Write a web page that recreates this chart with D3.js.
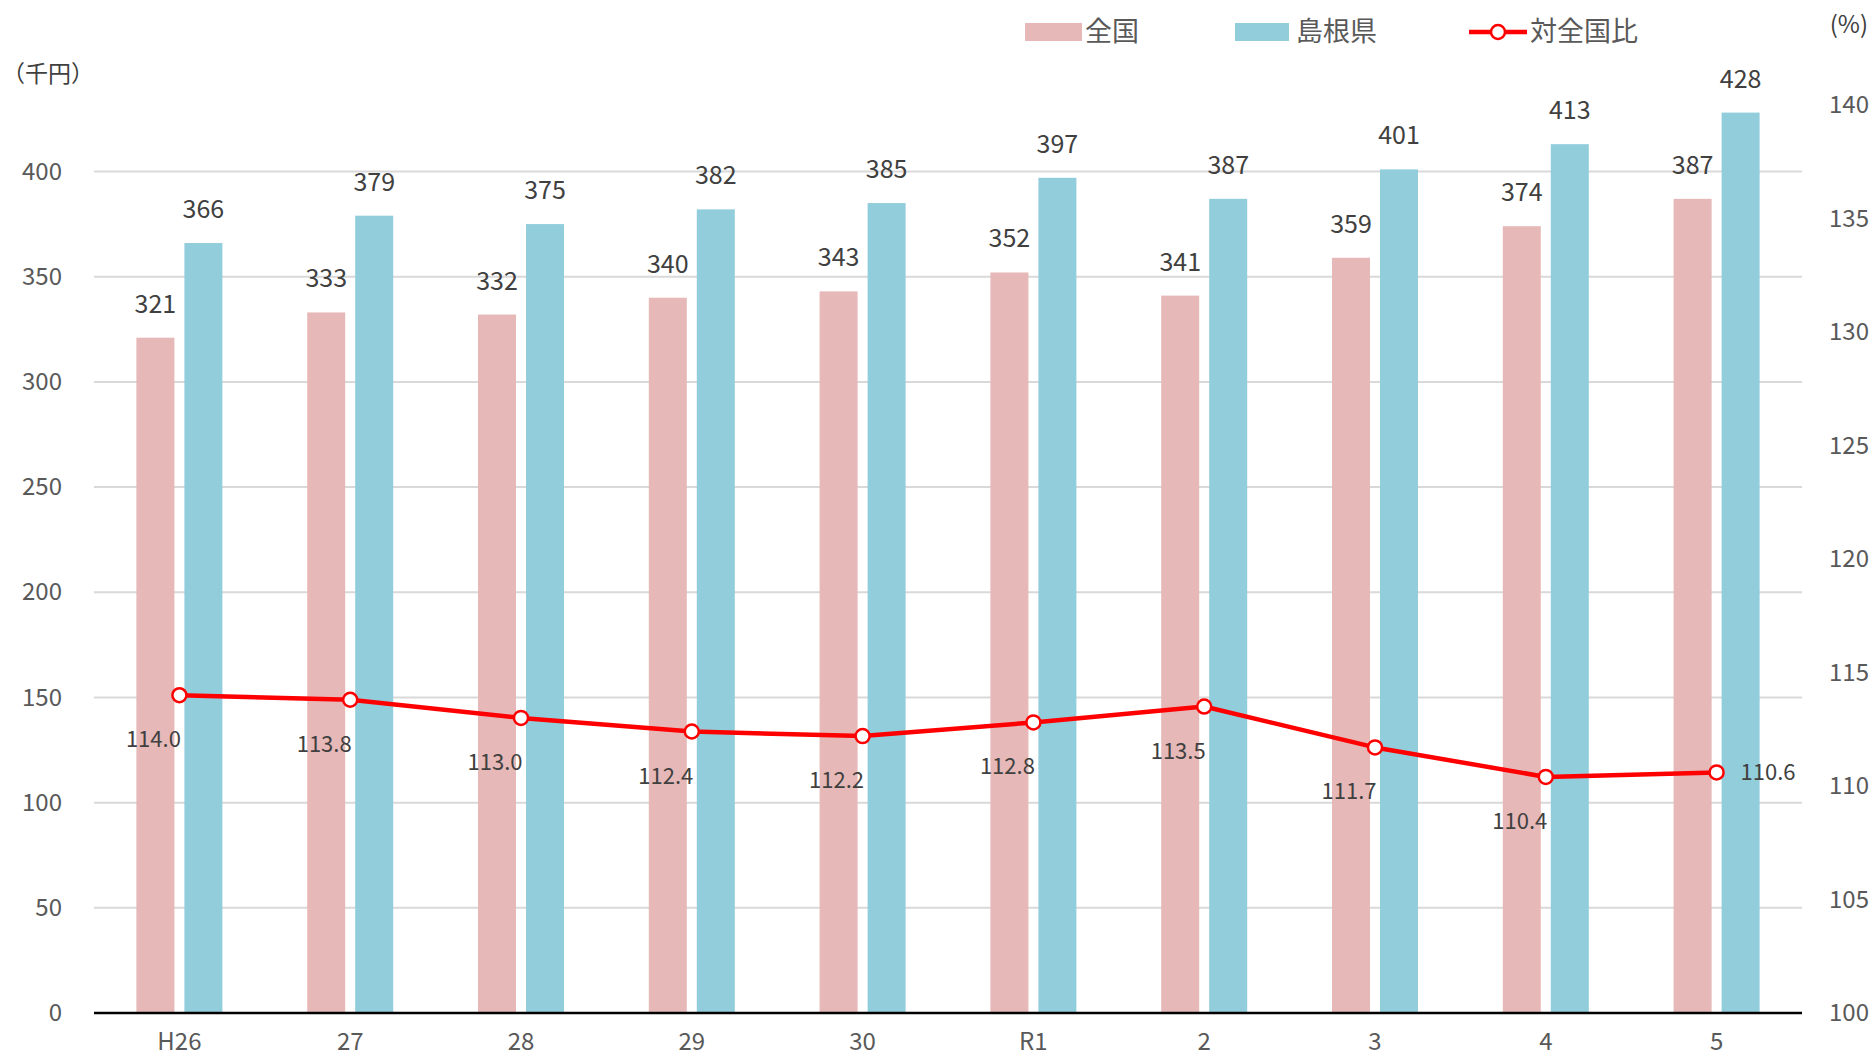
<!DOCTYPE html>
<html><head><meta charset="utf-8">
<script src="https://cdn.jsdelivr.net/npm/d3@7"></script>
<style>
html,body{margin:0;padding:0;background:#fff;}
svg{display:block;font-family:"Noto Sans CJK JP","Noto Sans",sans-serif;}
</style></head>
<body>
<svg id="chart" width="1874" height="1058"></svg>
<script>
const categories = ["H26","27","28","29","30","R1","2","3","4","5"];
const national = [321,333,332,340,343,352,341,359,374,387];
const shimane = [366,379,375,382,385,397,387,401,413,428];
const ratio = [114.0,113.8,113.0,112.4,112.2,112.8,113.5,111.7,110.4,110.6];
const leftTicks = [0,50,100,150,200,250,300,350,400];
const rightTicks = [100,105,110,115,120,125,130,135,140];
const seriesNames = ["全国","島根県","対全国比"];

const colNat = "#E6B8B7", colShi = "#92CDDC", colLine = "#FF0000";
const svg = d3.select("#chart");
const L = 94, R = 1802, B = 1013;

const x = d3.scaleBand().domain(categories).range([L,R]).paddingInner(0).paddingOuter(0);
const yL = d3.scaleLinear().domain([0,400]).range([B,171.5]);
const yR = d3.scaleLinear().domain([100,140]).range([B,105]);
const barW = 38, gap = 10;

// gridlines
svg.append("g").selectAll("line").data(leftTicks.filter(d=>d>0)).join("line")
  .attr("x1",L).attr("x2",R).attr("y1",d=>yL(d)).attr("y2",d=>yL(d))
  .attr("stroke","#D9D9D9").attr("stroke-width",2);

// left axis labels
const axL = d3.axisLeft(yL).tickValues(leftTicks).tickSize(0).tickPadding(0);
const gL = svg.append("g").attr("transform",`translate(62,0)`).call(axL);
gL.select(".domain").remove();
gL.selectAll("text").attr("font-size",24).attr("fill","#595959").attr("font-family","Noto Sans CJK JP");

// right axis labels
const axR = d3.axisRight(yR).tickValues(rightTicks).tickSize(0).tickPadding(0);
const gR = svg.append("g").attr("transform",`translate(1829,0)`).call(axR);
gR.select(".domain").remove();
gR.selectAll("text").attr("font-size",24).attr("fill","#595959").attr("font-family","Noto Sans CJK JP");

// bars
const cx = c => x(c) + x.bandwidth()/2;
svg.append("g").selectAll("rect").data(categories).join("rect")
  .attr("x",(c)=>cx(c)-gap/2-barW).attr("width",barW)
  .attr("y",(c,i)=>yL(national[i])).attr("height",(c,i)=>B-yL(national[i]))
  .attr("fill",colNat);
svg.append("g").selectAll("rect").data(categories).join("rect")
  .attr("x",(c)=>cx(c)+gap/2).attr("width",barW)
  .attr("y",(c,i)=>yL(shimane[i])).attr("height",(c,i)=>B-yL(shimane[i]))
  .attr("fill",colShi);

// bar labels
svg.append("g").selectAll("text").data(categories).join("text")
  .attr("x",c=>cx(c)-gap/2-barW/2).attr("y",(c,i)=>yL(national[i])-25)
  .attr("text-anchor","middle").attr("font-size",25).attr("fill","#404040")
  .text((c,i)=>national[i]);
svg.append("g").selectAll("text").data(categories).join("text")
  .attr("x",c=>cx(c)+gap/2+barW/2).attr("y",(c,i)=>yL(shimane[i])-25)
  .attr("text-anchor","middle").attr("font-size",25).attr("fill","#404040")
  .text((c,i)=>shimane[i]);

// baseline
svg.append("line").attr("x1",L).attr("x2",R).attr("y1",B).attr("y2",B)
  .attr("stroke","#000").attr("stroke-width",2.5);

// x axis labels
const axX = d3.axisBottom(x).tickSize(0).tickPadding(0);
const gX = svg.append("g").attr("transform",`translate(0,1050)`).call(axX);
gX.select(".domain").remove();
gX.selectAll("text").attr("font-size",24).attr("fill","#595959").attr("dy",0).attr("y",0).attr("font-family","Noto Sans CJK JP");

// line
const line = d3.line().x((d,i)=>cx(categories[i])).y(d=>yR(d));
svg.append("path").datum(ratio).attr("d",line).attr("fill","none")
  .attr("stroke",colLine).attr("stroke-width",4.5).attr("stroke-linejoin","round");
svg.append("g").selectAll("circle").data(ratio).join("circle")
  .attr("cx",(d,i)=>cx(categories[i])).attr("cy",d=>yR(d)).attr("r",7)
  .attr("fill","#fff").attr("stroke",colLine).attr("stroke-width",2.5);
svg.append("g").selectAll("text").data(ratio).join("text")
  .attr("x",(d,i)=> i===ratio.length-1 ? cx(categories[i])+24 : cx(categories[i])-26)
  .attr("y",(d,i)=> i===ratio.length-1 ? yR(d)+8 : yR(d)+52)
  .attr("text-anchor",(d,i)=> i===ratio.length-1 ? "start" : "middle")
  .attr("font-size",22).attr("fill","#404040")
  .text(d=>d.toFixed(1));

// unit labels
svg.append("text").attr("x",2).attr("y",82).attr("font-size",23).attr("fill","#404040").text("（千円）");
svg.append("text").attr("x",1868).attr("y",33).attr("text-anchor","end").attr("font-size",24).attr("fill","#404040").text("(%)");

// legend
const lg = svg.append("g");
lg.append("rect").attr("x",1025).attr("y",23).attr("width",57).attr("height",18).attr("fill",colNat);
lg.append("text").attr("x",1085).attr("y",41).attr("font-size",27).attr("fill","#595959").text(seriesNames[0]);
lg.append("rect").attr("x",1235).attr("y",23).attr("width",54).attr("height",18).attr("fill",colShi);
lg.append("text").attr("x",1296).attr("y",41).attr("font-size",27).attr("fill","#595959").text(seriesNames[1]);
lg.append("line").attr("x1",1469).attr("x2",1527).attr("y1",32).attr("y2",32).attr("stroke",colLine).attr("stroke-width",4.5);
lg.append("circle").attr("cx",1498).attr("cy",32).attr("r",7).attr("fill","#fff").attr("stroke",colLine).attr("stroke-width",2.5);
lg.append("text").attr("x",1530).attr("y",41).attr("font-size",27).attr("fill","#595959").text(seriesNames[2]);
</script>
</body></html>
